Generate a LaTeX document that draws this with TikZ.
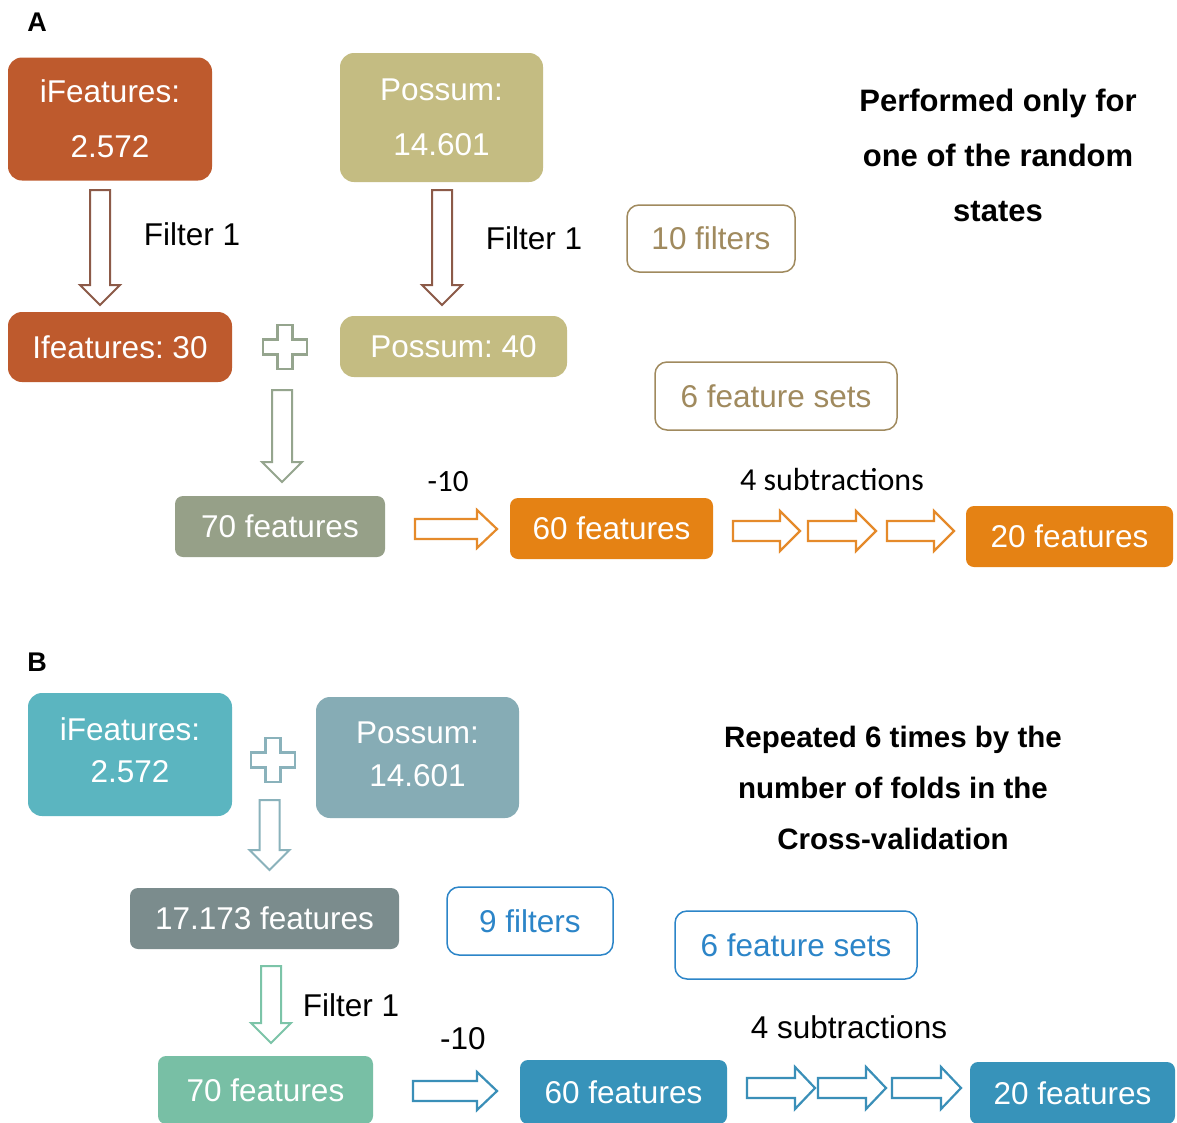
\documentclass[tikz,border=0pt]{standalone}
\usepackage{fontspec}
\setmainfont{Liberation Sans}
\newfontfamily\carlfont{Carlito}
\frenchspacing
\definecolor{rustA}{RGB}{190,90,45}
\definecolor{possA}{RGB}{196,188,130}
\definecolor{brownA}{RGB}{140,90,72}
\definecolor{tanA}{RGB}{160,138,94}
\definecolor{sageA}{RGB}{149,165,142}
\definecolor{boxseventyA}{RGB}{150,160,136}
\definecolor{orangeA}{RGB}{229,130,20}
\definecolor{orangeline}{RGB}{229,138,42}
\definecolor{tealB}{RGB}{91,181,192}
\definecolor{possB}{RGB}{134,172,181}
\definecolor{steelB}{RGB}{138,178,187}
\definecolor{greyB}{RGB}{123,140,141}
\definecolor{blueB}{RGB}{44,133,200}
\definecolor{mintB}{RGB}{120,191,165}
\definecolor{mintline}{RGB}{124,196,168}
\definecolor{darkblueB}{RGB}{55,147,186}
\definecolor{blueline}{RGB}{58,143,184}
\tikzset{
  box/.style={rounded corners=14pt, text=white, align=center, inner sep=0pt,
    font=\fontsize{31.5}{55}\selectfont},
  btext/.style={text=white, align=center, inner sep=0pt},
  obox/.style={draw, line width=1.5pt, rounded corners=12pt, fill=white, align=center,
    inner sep=0pt, font=\fontsize{31.5}{36}\selectfont},
  lbl/.style={inner sep=0pt, font=\fontsize{31.5}{34}\selectfont},
  note/.style={inner sep=0pt, font=\bfseries\fontsize{28}{34}\selectfont},
  panel/.style={inner sep=0pt, font=\bfseries\fontsize{27}{30}\selectfont},
}
\newcommand\downblk[4]{%
  \draw[#4, line width=2pt, fill=white, line join=miter]
    (#1-10,#2) -- (#1+10,#2) -- (#1+10,#3-20) -- (#1+20,#3-20) -- (#1,#3)
    -- (#1-20,#3-20) -- (#1-10,#3-20) -- cycle;}
\newcommand\rightblk[7]{% xl, xtip, yc, shaft half, head half, head length, colour
  \draw[#7, line width=2.2pt, fill=white, line join=miter]
    (#1,#3-#4) -- (#2-#6,#3-#4) -- (#2-#6,#3-#5) -- (#2,#3) -- (#2-#6,#3+#5)
    -- (#2-#6,#3+#4) -- (#1,#3+#4) -- cycle;}
\newcommand\plusshp[3]{%
  \draw[#3, line width=2.2pt, fill=white]
    (#1-7.5,#2-22) -- (#1+7.5,#2-22) -- (#1+7.5,#2-7.5) -- (#1+22,#2-7.5)
    -- (#1+22,#2+7.5) -- (#1+7.5,#2+7.5) -- (#1+7.5,#2+22) -- (#1-7.5,#2+22)
    -- (#1-7.5,#2+7.5) -- (#1-22,#2+7.5) -- (#1-22,#2-7.5) -- (#1-7.5,#2-7.5) -- cycle;}
\begin{document}
\begin{tikzpicture}[x=1pt,y=-1pt]
\useasboundingbox (0,0) rectangle (1177,1122);
\clip (0,0) rectangle (1177,1122);
\fill[white] (0,0) rectangle (1177,1122);

% ---------------- Panel A ----------------
\node[panel] (labA) at (37,22) {A};
\node[box, fill=rustA, minimum width=204pt, minimum height=123pt] (ifA) at (110,119) {iFeatures:\\2.572};
\node[box, fill=possA, minimum width=203pt, minimum height=129pt] (possA) at (441.5,117.5) {Possum:\\14.601};

\downblk{100}{190}{305}{brownA}
\downblk{442}{190}{305}{brownA}
\node[lbl] (filtA1) at (192,234) {Filter 1};
\node[lbl] (filtA2) at (534,238) {Filter 1};

\node[obox, draw=tanA, text=tanA, minimum width=168pt, minimum height=67pt] (tenf) at (711,238.5) {10 filters};

\node[note, align=center, font=\bfseries\fontsize{31}{55}\selectfont] (perf) at (998,155) {Performed only for\\one of the random\\states};

\node[box, fill=rustA, minimum width=224pt, minimum height=70pt] (ifA30) at (120,347) {Ifeatures: 30};
\plusshp{285}{347}{sageA}
\node[box, fill=possA, minimum width=227pt, minimum height=61pt] (possA40) at (453.5,346.5) {Possum: 40};

\node[obox, draw=tanA, text=tanA, minimum width=242pt, minimum height=68pt] (sixA) at (776,396) {6 feature sets};

\downblk{282}{390}{482}{sageA}

\node[box, fill=boxseventyA, rounded corners=8pt, minimum width=210pt, minimum height=61pt] (f70A) at (280,526.5) {70 features};
\node[lbl, font=\carlfont\fontsize{31}{34}\selectfont] (m10A) at (448,482) {-10};
\rightblk{415}{497}{529}{10}{19}{20}{orangeline}
\node[box, fill=orangeA, rounded corners=8pt, minimum width=203pt, minimum height=61pt] (f60A) at (611.5,528.5) {60 features};
\node[lbl, font=\carlfont\fontsize{32}{34}\selectfont] (subA) at (832,479) {4 subtractions};
\rightblk{733}{800}{531}{10}{20}{20}{orangeline}
\rightblk{808}{876}{531}{10}{20}{20}{orangeline}
\rightblk{887}{954}{531}{10}{20}{20}{orangeline}
\node[box, fill=orangeA, rounded corners=8pt, minimum width=207pt, minimum height=61pt] (f20A) at (1069.5,536.5) {20 features};

% ---------------- Panel B ----------------
\node[panel] (labB) at (37,662) {B};
\node[box, fill=tealB, minimum width=204pt, minimum height=123pt] (ifB) at (130,754.5) {};
\node[btext, font=\fontsize{31.5}{42}\selectfont] (ifBt) at (130,750.5) {iFeatures:\\2.572};
\plusshp{273}{760}{steelB}
\node[box, fill=possB, minimum width=203pt, minimum height=121pt] (possB) at (417.5,757.5) {};
\node[btext, font=\fontsize{31.5}{43}\selectfont] (possBt) at (417.5,754.5) {Possum:\\14.601};

\downblk{269.5}{800}{870}{steelB}

\node[note, align=center, font=\bfseries\fontsize{29.5}{51}\selectfont] (rep) at (893,788) {Repeated 6 times by the\\number of folds in the\\Cross-validation};

\node[box, fill=greyB, rounded corners=8pt, minimum width=269pt, minimum height=61pt] (f17) at (264.5,918.5) {17.173 features};
\node[obox, draw=blueB, text=blueB, minimum width=166pt, minimum height=68pt] (ninef) at (530,921) {9 filters};
\node[obox, draw=blueB, text=blueB, minimum width=242pt, minimum height=68pt] (sixB) at (796,945) {6 feature sets};

\downblk{271}{966}{1043}{mintline}
\node[lbl] (filtB) at (351,1005) {Filter 1};

\node[box, fill=mintB, rounded corners=8pt, minimum width=215pt, minimum height=68pt] (f70B) at (265.5,1090) {70 features};
\node[lbl] (m10B) at (463,1039) {-10};
\rightblk{413}{497}{1091}{10}{19}{20}{blueline}
\node[box, fill=darkblueB, rounded corners=8pt, minimum width=207pt, minimum height=64pt] (f60B) at (623.5,1092) {60 features};
\node[lbl] (subB) at (849,1027) {4 subtractions};
\rightblk{747}{815}{1088}{10}{21}{20}{blueline}
\rightblk{818}{886}{1088}{10}{21}{20}{blueline}
\rightblk{892}{961}{1088}{10}{21}{20}{blueline}
\node[box, fill=darkblueB, rounded corners=8pt, minimum width=205pt, minimum height=62pt] (f20B) at (1072.5,1093) {20 features};
\end{tikzpicture}
\end{document}
